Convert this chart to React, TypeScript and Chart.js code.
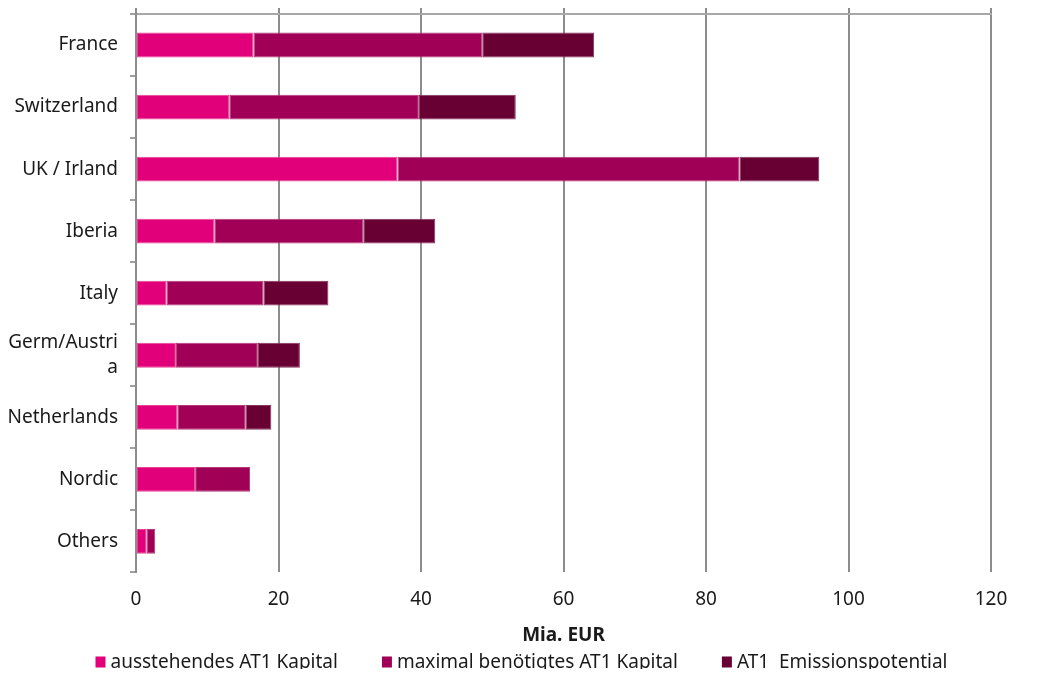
import { useEffect, useRef } from 'react';
import { Chart, registerables } from 'chart.js';

Chart.register(...registerables);

// Regions (top to bottom)
const regions = [
  'France',
  'Switzerland',
  'UK / Irland',
  'Iberia',
  'Italy',
  ['Germ/Austri', 'a'],
  'Netherlands',
  'Nordic',
  'Others',
];

// Stacked segments, bn EUR
const outstandingAT1 = [16.5, 13.1, 36.7, 11.0, 4.3, 5.6, 5.8, 8.3, 1.5];
const maxRequiredAT1 = [32.1, 26.6, 48.0, 20.9, 13.6, 11.5, 9.6, 7.7, 1.2];
const issuancePotential = [15.7, 13.6, 11.2, 10.1, 9.1, 5.9, 3.6, null, null];

const seriesNames = [
  'ausstehendes AT1 Kapital',
  'maximal benötigtes AT1 Kapital',
  'AT1  Emissionspotential',
];
const seriesColors = ['#E2007A', '#A00055', '#690033'];
const seriesBorders = ['#E94494', '#B53A78', '#84335C'];

const xMin = 0;
const xMax = 120;
const xStep = 20;
const axisTitle = 'Mia. EUR';

const FONT_FAMILY = '"Noto Sans", "DejaVu Sans", sans-serif';
const FONT_SIZE = 19;
const TEXT_COLOR = '#1a1a1a';

const CANVAS_W = 1024;
const CANVAS_H = 669;

// Single-row legend drawn under the axis title
const bottomLegend = {
  id: 'bottomLegend',
  afterDraw(chart: any) {
    const { ctx } = chart;
    const boxW = 10;
    const boxH = 11;
    const gapText = 5;
    const gapItem = 44;
    const cy = 654;
    ctx.save();
    ctx.font = `${FONT_SIZE}px ${FONT_FAMILY}`;
    ctx.textBaseline = 'middle';
    ctx.textAlign = 'left';
    const items = chart.data.datasets.map((ds: any) => {
      const tw = ctx.measureText(ds.label).width;
      return { text: ds.label, color: ds.backgroundColor, w: boxW + gapText + tw };
    });
    const total =
      items.reduce((s: number, it: any) => s + it.w, 0) + gapItem * (items.length - 1);
    let x = chart.width / 2 + 1.5 - total / 2;
    for (const it of items) {
      ctx.fillStyle = it.color;
      ctx.fillRect(x, cy - boxH / 2, boxW, boxH);
      ctx.fillStyle = TEXT_COLOR;
      ctx.fillText(it.text, x + boxW + gapText, cy + 1);
      x += it.w + gapItem;
    }
    ctx.restore();
  },
};

export default function App() {
  const canvasRef = useRef<HTMLCanvasElement>(null);

  useEffect(() => {
    const canvas = canvasRef.current;
    if (!canvas) return;
    const values = [outstandingAT1, maxRequiredAT1, issuancePotential];
    const chart = new Chart(canvas, {
      type: 'bar',
      data: {
        labels: regions,
        datasets: values.map((data, i) => ({
          label: seriesNames[i],
          data,
          backgroundColor: seriesColors[i],
          borderColor: seriesBorders[i],
          borderWidth: 1,
          borderSkipped: false,
          barPercentage: 0.4,
          categoryPercentage: 1,
        })),
      },
      plugins: [bottomLegend],
      options: {
        indexAxis: 'y',
        animation: false,
        responsive: false,
        maintainAspectRatio: false,
        layout: { padding: { top: 0, right: 41, bottom: 30, left: 0 } },
        scales: {
          x: {
            type: 'linear',
            stacked: true,
            position: 'bottom',
            min: xMin,
            max: xMax,
            ticks: {
              stepSize: xStep,
              padding: 16,
              color: TEXT_COLOR,
              font: { family: FONT_FAMILY, size: FONT_SIZE },
            },
            grid: { color: '#8c8c8c', lineWidth: 2, drawTicks: false },
            border: { display: false },
            title: {
              display: true,
              text: axisTitle,
              color: TEXT_COLOR,
              font: { family: FONT_FAMILY, size: FONT_SIZE, weight: 'bold' },
              padding: { top: -3, bottom: 0 },
            },
          },
          xTop: {
            type: 'linear',
            position: 'top',
            min: xMin,
            max: xMax,
            ticks: { stepSize: xStep, display: false },
            grid: { drawOnChartArea: false, tickLength: 6, color: '#8c8c8c', lineWidth: 2 },
            border: { display: true, color: '#a8a8a8', width: 2 },
          },
          y: {
            stacked: true,
            offset: true,
            ticks: {
              padding: 12,
              color: TEXT_COLOR,
              font: { family: FONT_FAMILY, size: FONT_SIZE, lineHeight: 1.3 },
            },
            grid: {
              offset: true,
              drawOnChartArea: false,
              tickLength: 6,
              color: '#a0a0a0',
              lineWidth: 2,
            },
            border: { display: true, color: '#8c8c8c', width: 2 },
            afterFit(scale: any) {
              scale.width = 128;
              scale.paddingTop = 0;
              scale.paddingBottom = 0;
            },
          },
        },
        plugins: {
          legend: { display: false },
          tooltip: { enabled: false },
        },
      },
    });
    return () => chart.destroy();
  }, []);

  return (
    <div style={{ position: 'relative', width: CANVAS_W, height: 661 }}>
      <canvas
        ref={canvasRef}
        width={CANVAS_W}
        height={CANVAS_H}
        style={{ position: 'absolute', left: 0, top: 0 }}
      />
    </div>
  );
}
